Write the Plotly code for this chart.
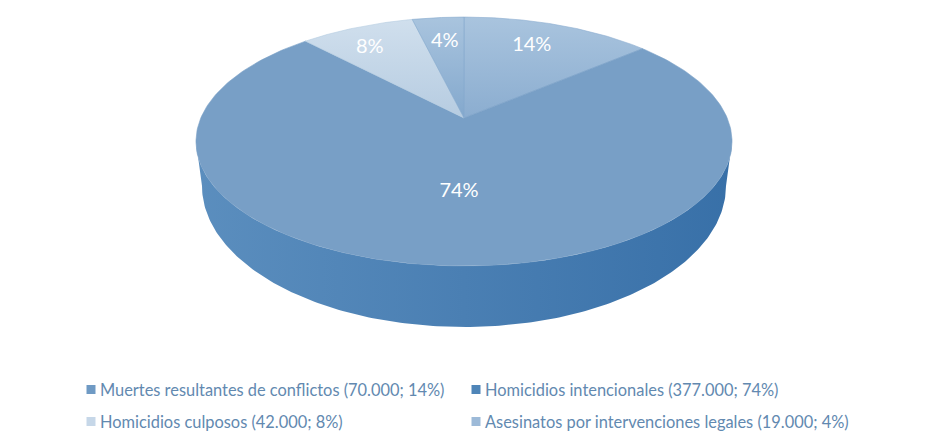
import numpy as np
import plotly.graph_objects as go

categories = ["Muertes resultantes de conflictos", "Homicidios intencionales",
              "Homicidios culposos", "Asesinatos por intervenciones legales"]
deaths = [70000, 377000, 42000, 19000]
pct_labels = ["14%", "74%", "8%", "4%"]
legend_labels = ["Muertes resultantes de conflictos (70.000; 14%)",
                 "Homicidios intencionales (377.000; 74%)",
                 "Homicidios culposos (42.000; 8%)",
                 "Asesinatos por intervenciones legales (19.000; 4%)"]

# top face gradients, top to bottom of each slice
face_colors = [("#a9c4de", "#8badd0"), ("#789fc6", "#789fc6"),
               ("#d0dfed", "#b6cce1"), ("#a9c4de", "#83a8cd")]
swatches = ["#6f9ac4", "#4f85b8", "#c6d7e8", "#9dbad8"]
label_radius = [0.72, 0.55, 0.8, 0.75]
# small nudges so the labels sit where the original put them
label_dx = [-3, 4, -6, 1]
label_dy = [-2, 0, 5, 2]

# tilted disc: pixel position of the pie centre and perspective of the projection
APEX_X, APEX_Y = 464, 118
K, SX, SY = 0.1888, 263.2, 120.0
LEGEND_BLUE = "#6289b0"
FONT = "Lato"


def project(r, theta):
    w = 1 + K * r * np.cos(theta)
    return APEX_X + SX * r * np.sin(theta) / w, APEX_Y - SY * r * np.cos(theta) / w


fig = go.Figure()

# side wall, front half of the top rim down to a slightly narrower lower rim
phi = np.linspace(-np.pi / 2, np.pi / 2, 200)
top_x = 464 + 268 * np.sin(phi)
top_y = 141.5 + 124.5 * np.cos(phi)
low_x = 464 + 262 * np.sin(phi[::-1])
low_y = 186 + 141 * np.cos(phi[::-1])
fig.add_trace(go.Scatter(
    x=np.concatenate([top_x, low_x]), y=np.concatenate([top_y, low_y]),
    mode="lines", fill="toself", line=dict(width=0), hoverinfo="skip", showlegend=False,
    fillgradient=dict(type="horizontal",
                      colorscale=[[0, "#5b8ebe"], [0.5, "#4a7fb3"], [1, "#3870a8"]]),
))

# slices, clockwise from twelve o'clock
shares = np.array(deaths) / sum(deaths)
edges = np.concatenate([[0], np.cumsum(shares)]) * 2 * np.pi
for i, name in enumerate(categories):
    t = np.linspace(edges[i], edges[i + 1], 240)
    ex, ey = project(1.0, t)
    fig.add_trace(go.Scatter(
        x=np.concatenate([[APEX_X], ex, [APEX_X]]),
        y=np.concatenate([[APEX_Y], ey, [APEX_Y]]),
        mode="lines", fill="toself", name=name, showlegend=False, hoverinfo="name",
        line=dict(width=0.6, color=face_colors[i][1]),
        fillgradient=dict(type="vertical",
                          colorscale=[[0, face_colors[i][1]], [1, face_colors[i][0]]]),
    ))

# percent labels
mids = (edges[:-1] + edges[1:]) / 2
lx, ly = zip(*[project(r, m) for r, m in zip(label_radius, mids)])
fig.add_trace(go.Scatter(
    x=np.array(lx) + label_dx, y=np.array(ly) + label_dy, mode="text", text=pct_labels,
    showlegend=False, hoverinfo="skip",
    textfont=dict(family=FONT, size=20, color="white"),
))

# legend in two columns
legend_x = [91, 476, 91, 476]
legend_y = [389.5, 389.5, 421.5, 421.5]
fig.add_trace(go.Scatter(
    x=legend_x, y=legend_y, mode="markers", showlegend=False, hoverinfo="skip",
    marker=dict(symbol="square", size=9, color=swatches, line=dict(width=0)),
))
for lab, x, y in zip(legend_labels, legend_x, legend_y):
    fig.add_annotation(x=x + 7, y=y, text=lab, showarrow=False, xanchor="left", yanchor="middle",
                       font=dict(family=FONT, size=16.4, color=LEGEND_BLUE))

fig.update_xaxes(range=[0, 925], visible=False, fixedrange=True)
fig.update_yaxes(range=[435, 0], visible=False, fixedrange=True)
fig.update_layout(width=925, height=435, margin=dict(l=0, r=0, t=0, b=0),
                  paper_bgcolor="white", plot_bgcolor="white", showlegend=False)
# drop the page's default body margin so the figure fills the window
fig.write_html("out.html", config={"displayModeBar": False},
               post_script="document.body.style.margin='0';document.body.style.overflow='hidden';")
